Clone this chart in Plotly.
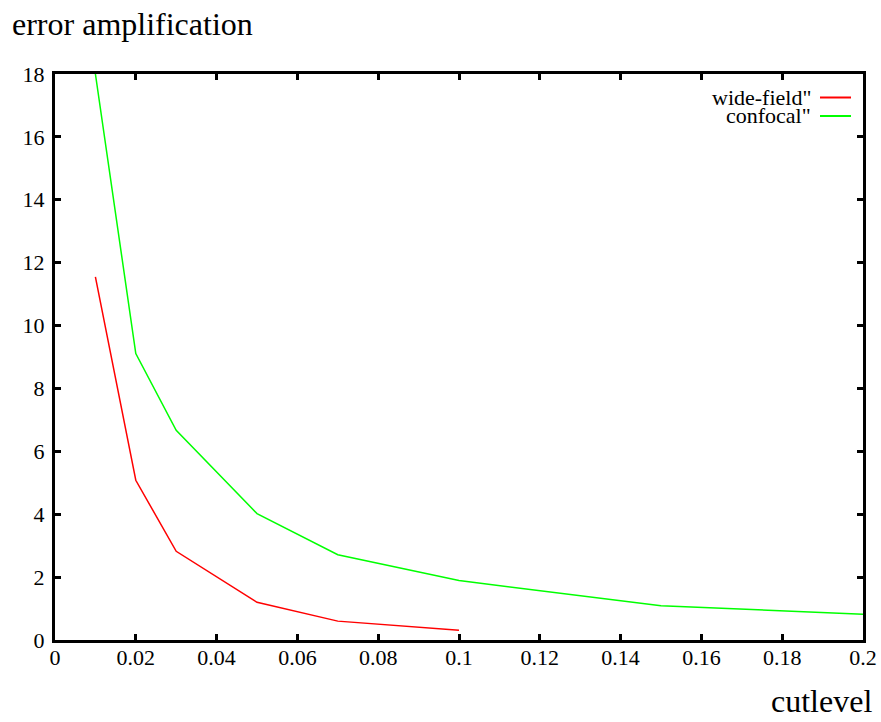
import plotly.graph_objects as go

# data
wf_x = [0.01, 0.02, 0.03, 0.05, 0.07, 0.10]
wf_y = [11.55, 5.08, 2.82, 1.20, 0.60, 0.31]
cf_x = [0.01, 0.02, 0.03, 0.05, 0.07, 0.10, 0.15, 0.20]
cf_y = [18.0, 9.11, 6.67, 4.02, 2.71, 1.89, 1.09, 0.82]
series_names = ['wide-field"', 'confocal"']
series_colors = ["#ff0000", "#00ff00"]
x_title = "cutlevel"
y_title = "error amplification"
x_tickvals = [0, 0.02, 0.04, 0.06, 0.08, 0.1, 0.12, 0.14, 0.16, 0.18, 0.2]
x_ticktext = ["0", "0.02", "0.04", "0.06", "0.08", "0.1", "0.12", "0.14", "0.16", "0.18", "0.2"]
y_tickvals = [0, 2, 4, 6, 8, 10, 12, 14, 16, 18]

FONT = "Liberation Serif"
W, H = 881, 722
L, R, T, B = 55, 18, 74, 82
pw, ph = W - L - R, H - T - B

def px_x(p):
    return (p - L) / pw

def px_y(p):
    return (H - B - p) / ph

fig = go.Figure()
for xs, ys, name, col in zip([wf_x, cf_x], [wf_y, cf_y], series_names, series_colors):
    fig.add_trace(go.Scatter(x=xs, y=ys, mode="lines", name=name,
                             line=dict(color=col, width=1.5), showlegend=False,
                             hoverinfo="skip"))

axis_common = dict(showgrid=False, zeroline=False, showline=True, linecolor="black",
                   linewidth=3, mirror="allticks", ticks="inside", ticklen=6,
                   tickwidth=3, tickcolor="black", automargin=False,
                   tickfont=dict(family=FONT, size=22, color="black"))
fig.update_xaxes(range=[0, 0.2], tickvals=x_tickvals, ticktext=x_ticktext,
                 ticklabelstandoff=-4, **axis_common)
fig.update_yaxes(range=[0, 18], tickvals=y_tickvals, ticklabelstandoff=3, **axis_common)

annotations = [
    dict(text=y_title, xref="paper", yref="paper", x=px_x(10), y=px_y(4),
         xanchor="left", yanchor="top", showarrow=False,
         font=dict(family=FONT, size=32, color="black")),
    dict(text=x_title, xref="paper", yref="paper", x=px_x(874), y=px_y(721),
         xanchor="right", yanchor="bottom", showarrow=False,
         font=dict(family=FONT, size=32, color="black")),
]
shapes = []
row_y = [97.5, 116]
for name, col, ry in zip(series_names, series_colors, row_y):
    annotations.append(dict(text=name, xref="paper", yref="paper", x=px_x(813), y=px_y(ry),
                            xanchor="right", yanchor="middle", showarrow=False,
                            font=dict(family=FONT, size=22, color="black")))
    shapes.append(dict(type="line", xref="paper", yref="paper", x0=px_x(820), x1=px_x(851),
                       y0=px_y(ry), y1=px_y(ry), line=dict(color=col, width=2)))

fig.update_layout(width=W, height=H, margin=dict(l=L, r=R, t=T, b=B),
                  plot_bgcolor="white", paper_bgcolor="white",
                  annotations=annotations, shapes=shapes, hovermode=False,
                  font=dict(family=FONT, color="black"))
fig.write_html("out.html", config={"displayModeBar": False},
               post_script="document.body.style.margin='0';document.body.style.overflow='hidden';")
